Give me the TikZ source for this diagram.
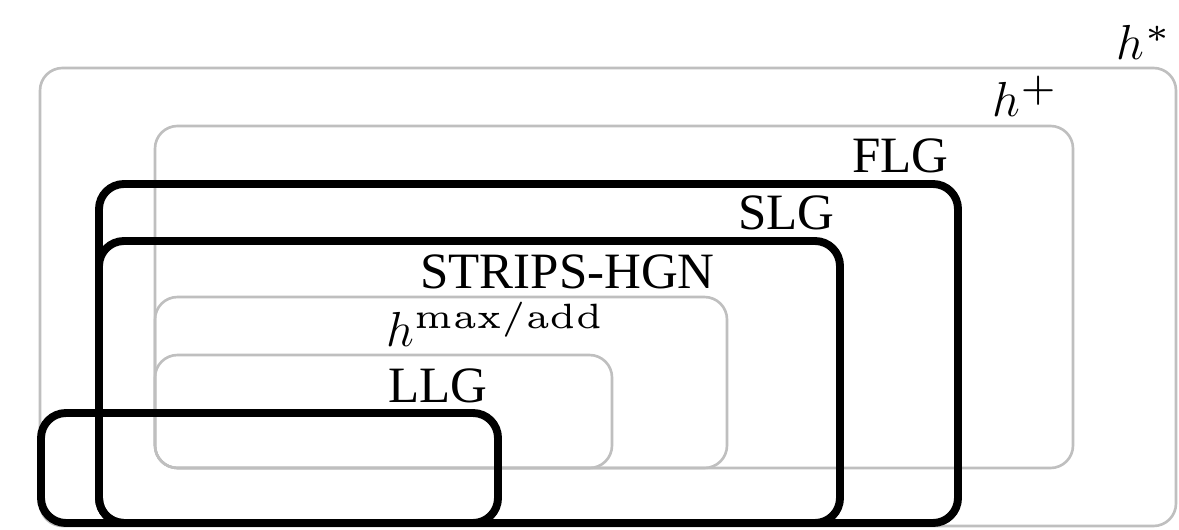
\RequirePackage{fix-cm}
\documentclass[tikz,border=0pt]{standalone}
\usepackage{amsmath}
\usepackage[no-math]{fontspec}
\setmainfont{Liberation Serif}
\DeclareMathSizes{29}{28}{20}{14}
\usetikzlibrary{calc, positioning}

% small-design fonts for the wide superscripts
\font\supfont=cmr5 at 20pt
\font\supsymfont=cmsy5 at 20pt
\newcommand{\hsup}[1]{$h^{\hbox{#1}}$}

\tikzset{
  greybox/.style={draw=black!25, line width=1.5pt, rounded corners=0.45cm},
  heurbox/.style={draw=black, line width=4.5pt, rounded corners=0.5cm},
  boxlabel/.style={anchor=base west, inner sep=0pt, font=\fontsize{29}{34}\selectfont}
}

\begin{document}
\begin{tikzpicture}[x=0.02cm, y=-0.02cm]
\useasboundingbox (0,0) rectangle (1179,530);

% grey boxes
\draw[greybox] (40,68) rectangle (1176,526);
\draw[greybox] (155,126) rectangle (1073,468);
\draw[greybox] (155,297) rectangle (727,468);
\draw[greybox] (155,355) rectangle (612,468);

% black boxes
\draw[heurbox] (99,184) rectangle (958,523);
\draw[heurbox] (99,241) rectangle (840,523);
\draw[heurbox] (41,413) rectangle (498,523);

\node[boxlabel] (hstar) at (1116,60) {\hsup{\supsymfont\char3}};
\node[boxlabel] (hplus) at (992,117) {\hsup{\supfont +}};
\node[boxlabel] (flg) at (852,173) {FLG};
\node[boxlabel] (slg) at (738,230) {SLG};
\node[boxlabel] (hgn) at (420,288) {STRIPS-HGN};
\node[boxlabel] (hmax) at (386,346) {\hsup{\supfont max/add}};
\node[boxlabel] (llg) at (388,402) {LLG};
\end{tikzpicture}
\end{document}
